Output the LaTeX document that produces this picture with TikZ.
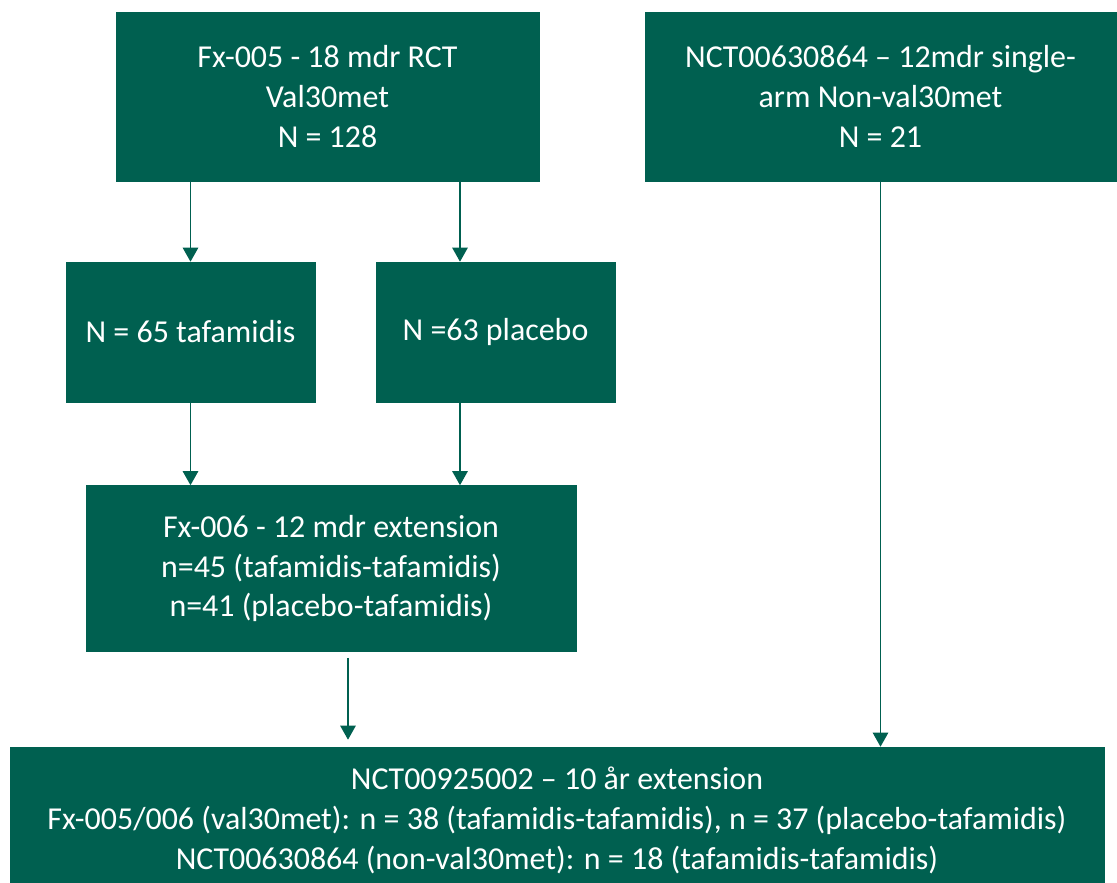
\documentclass[tikz,border=0pt]{standalone}
\usepackage{fontspec}
\setmainfont{Carlito}
\usetikzlibrary{arrows.meta}
\definecolor{vert}{RGB}{0,96,80}

\begin{document}
\begin{tikzpicture}[x=0.025cm,y=-0.025cm]
	\tikzstyle{boite}=[rectangle,fill=vert,draw=vert,text=white,align=center,inner sep=0pt,font=\fontsize{22.7}{28.4}\selectfont]
	\tikzstyle{fleche}=[draw=vert,line width=1pt,-{Triangle[length=10pt,width=11pt]}]
	\useasboundingbox (0,0) rectangle (1117,882);
	\begin{scope}
	\clip (0,0) rectangle (1117,882);
	\node[boite,minimum width=10.575cm,minimum height=4.225cm] (A) at (327.5,96.5){Fx-005 - 18 mdr RCT\\Val30met\\N = 128};
	\node[boite,minimum width=11.775cm,minimum height=4.225cm] (B) at (880.5,96.5){NCT00630864 – 12mdr single-\\arm Non-val30met\\N = 21};
	\node[boite,minimum width=6.225cm,minimum height=3.5cm] (C) at (190.5,332){N = 65 tafamidis};
	\node[boite,minimum width=5.975cm,minimum height=3.5cm] (D) at (495.5,332){N =63 placebo};
	\node[boite,minimum width=12.25cm,minimum height=4.15cm] (E) at (331,568.5){Fx-006 - 12 mdr extension\\n=45 (tafamidis-tafamidis)\\n=41 (placebo-tafamidis)};
	\node[boite,minimum width=27.35cm,minimum height=3.65cm] (F) at (557,820){NCT00925002 – 10 år extension\\Fx-005/006 (val30met): n = 38 (tafamidis-tafamidis), n = 37 (placebo-tafamidis)\\NCT00630864 (non-val30met): n = 18 (tafamidis-tafamidis)};
	\end{scope}
	% connecteurs
	\draw[fleche] (A.south -| C.north) -- (C.north);
	\draw[fleche] (A.south -| 460,0) -- (D.north -| 460,0);
	\draw[fleche] (C.south) -- (C.south |- E.north);
	\draw[fleche] (D.south -| 460,0) -- (E.north -| 460,0);
	\draw[fleche,shorten <=0.15cm,shorten >=0.175cm] (E.south -| 348,0) -- (F.north -| 348,0);
	\draw[fleche] (B.south) -- (B.south |- F.north);
\end{tikzpicture}
\end{document}
